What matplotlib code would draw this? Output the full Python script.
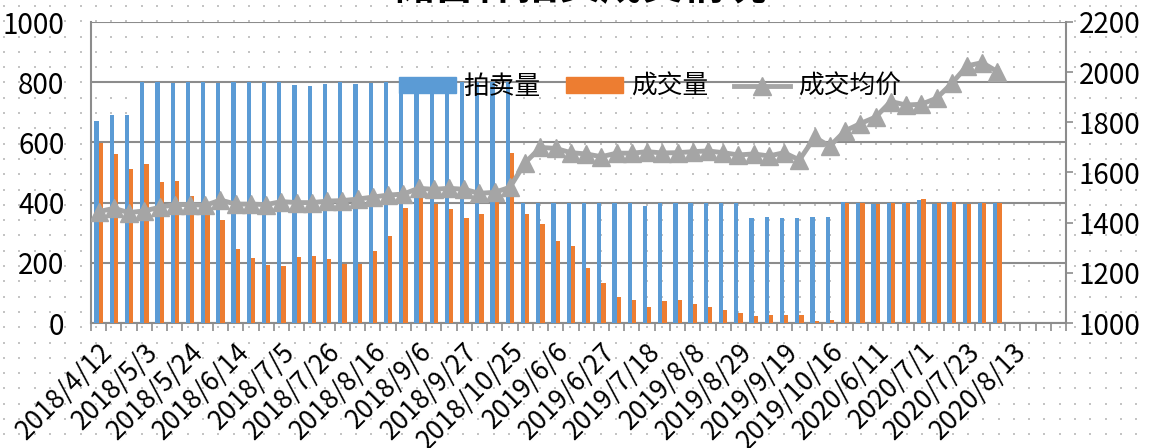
# library imports
import numpy as np
import matplotlib
matplotlib.use("Agg")
import matplotlib.pyplot as plt
from matplotlib.lines import Line2D
from matplotlib.patches import Patch

plt.rcParams['font.family'] = ['Noto Sans CJK SC', 'DejaVu Sans']

# DATA #
title = "储备棉拍卖成交情况"
series_names = ["拍卖量", "成交量", "成交均价"]
# every third category carries a date label
date_labels = ["2018/4/12", "2018/5/3", "2018/5/24", "2018/6/14", "2018/7/5",
               "2018/7/26", "2018/8/16", "2018/9/6", "2018/9/27", "2018/10/25",
               "2019/6/6", "2019/6/27", "2019/7/18", "2019/8/8", "2019/8/29",
               "2019/9/19", "2019/10/16", "2020/6/11", "2020/7/1", "2020/7/23",
               "2020/8/13"]
n_slots = 64  # category slots on the axis (last ones are empty)

auction_volume = [670, 692, 692,
                  800, 800, 797, 800, 800, 798, 800, 800, 800, 800, 790, 788,
                  795, 800, 795, 796, 800, 800, 800, 800, 800, 800, 800, 800,
                  800,
                  400, 400, 400, 398, 398, 398, 398, 398, 389, 398, 400, 400,
                  400, 400, 400, 350, 352, 350, 350, 352, 353,
                  401, 400, 394, 400, 400, 410, 397, 402, 397, 400, 400]
deal_volume = [597, 560, 511, 529, 470, 473, 422, 381, 342, 246,
               216, 193, 190, 218, 221, 213, 196, 197, 238, 289,
               381, 425, 394, 379, 349, 362, 420, 564, 363, 328,
               272, 256, 184, 134, 86, 75, 52, 72, 76, 62,
               52, 44, 34, 24, 27, 27, 28, 8, 11, 400,
               398, 394, 400, 400, 411, 398, 402, 397, 400, 400]
avg_price = [1444, 1457, 1440, 1447, 1461, 1472, 1472, 1469, 1490, 1474,
             1474, 1472, 1484, 1480, 1480, 1486, 1488, 1494, 1502, 1510,
             1514, 1537, 1533, 1537, 1533, 1517, 1521, 1541, 1639, 1700,
             1696, 1679, 1674, 1663, 1677, 1677, 1683, 1678, 1679, 1683,
             1686, 1679, 1670, 1674, 1666, 1679, 1650, 1740, 1705, 1766,
             1795, 1821, 1883, 1869, 1872, 1896, 1955, 2025, 2038, 2002]
# END - DATA #

BLUE = "#5b9bd5"
ORANGE = "#ed7d31"
GREY = "#a5a5a5"
AXIS_GREY = "#8c8c8c"

W, H = 1149, 448
fig = plt.figure(figsize=(W / 100, H / 100), dpi=100)
fig.patch.set_facecolor("white")

# dotted background pattern
bg = fig.add_axes([0, 0, 1, 1], zorder=-5)
bg.set_xlim(0, W)
bg.set_ylim(H, 0)
bg.axis("off")
gx, gy = np.meshgrid(np.arange(4, W, 15.3), np.arange(6, H, 15.3))
bg.scatter(gx.ravel(), gy.ravel(), s=1.6, color="#c4c4c4", marker="s", linewidths=0)

ax = fig.add_axes([91 / W, 1 - 323 / H, (1066 - 91) / W, (323 - 22) / H])
ax.patch.set_visible(False)

x = np.arange(len(auction_volume)) + 0.5
bw = 0.28
ax.bar(x - bw / 2, auction_volume, width=bw, color=BLUE, zorder=3)
ax.bar(x + bw / 2, deal_volume, width=bw, color=ORANGE, zorder=3)

ax.set_xlim(0, n_slots)
ax.set_ylim(0, 1000)
ax.set_yticks(range(0, 1001, 200))
ax.yaxis.grid(True, color=AXIS_GREY, linewidth=1.5, zorder=1)
ax.set_axisbelow(True)
ax.tick_params(axis="y", length=0, pad=19, labelsize=20)

# category ticks at boundaries, labels every third category
ax.set_xticks(np.arange(0, n_slots + 1), minor=True)
ax.set_xticks(np.arange(0, 3 * len(date_labels), 3) + 0.5)
ax.set_xticklabels(date_labels, rotation=45, ha="right", rotation_mode="anchor",
                   fontsize=19)
ax.tick_params(axis="x", which="major", length=0, pad=11)
ax.tick_params(axis="x", which="minor", length=6, color=AXIS_GREY, width=1.2)

for side in ["top", "right"]:
    ax.spines[side].set_visible(False)
for side in ["left", "bottom"]:
    ax.spines[side].set_color(AXIS_GREY)
    ax.spines[side].set_linewidth(1.5)

# price line on the secondary axis
ax2 = ax.twinx()
ax2.plot(x, avg_price, color=GREY, linewidth=3.5, marker="^", markersize=13,
         zorder=5)
ax2.set_ylim(1000, 2200)
ax2.set_yticks(range(1000, 2201, 200))
ax2.tick_params(axis="y", length=5, color=AXIS_GREY, width=1.2, pad=4, labelsize=20)
for side in ["top", "left", "bottom"]:
    ax2.spines[side].set_visible(False)
ax2.spines["right"].set_color(AXIS_GREY)
ax2.spines["right"].set_linewidth(1.5)

handles = [Patch(color=BLUE), Patch(color=ORANGE),
           Line2D([], [], color=GREY, linewidth=3.5, marker="^", markersize=13)]
fig.legend(handles, series_names, loc="center", ncol=3, frameon=False,
           bbox_to_anchor=(650 / W, 1 - 87 / H), fontsize=18.5,
           handlelength=2.2, handleheight=0.55, columnspacing=1.0,
           handletextpad=0.3)

# title is mostly cut off at the top of the picture
fig.text(580 / W, 1 - 8 / H, title, ha="center", va="bottom", fontsize=30,
         fontweight="bold")

fig.savefig("out.png", dpi=100)
